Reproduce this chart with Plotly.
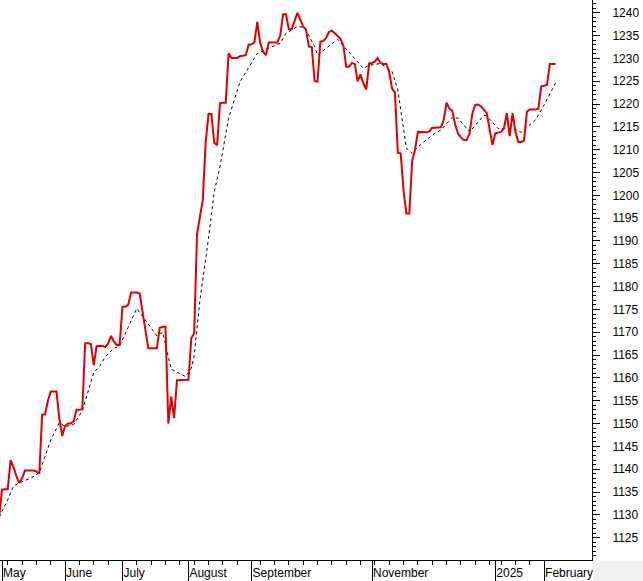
import pandas as pd
import plotly.graph_objects as go

# Trading calendar (HOSE) – business days minus exchange holidays
holidays = ["2024-04-29", "2024-04-30", "2024-05-01", "2024-09-02", "2024-09-03",
            "2025-01-01", "2025-01-27", "2025-01-28", "2025-01-29", "2025-01-30", "2025-01-31"]
days = pd.bdate_range("2024-04-26", "2025-02-07")
days = days[~days.isin(pd.to_datetime(holidays))]

close = [
    1129.5,
    1135.5, 1135.6, 1135.6, 1142.0, 1140.5, 1138.5, 1137.0, 1138.0, 1139.7, 1139.7,
    1139.7, 1139.7, 1139.5, 1139.0, 1152.0, 1152.0, 1155.0, 1157.0, 1157.0, 1157.0,
    1151.0, 1147.3, 1149.5, 1150.0, 1150.0, 1150.5, 1153.0, 1153.0, 1153.2, 1167.6,
    1167.6, 1167.4, 1162.8, 1167.0, 1167.0, 1167.0, 1166.8, 1167.5, 1169.2, 1168.0,
    1167.2, 1167.2, 1175.6, 1175.6, 1176.0, 1178.7, 1178.7, 1178.7, 1178.5, 1174.5,
    1170.5, 1166.5, 1166.5, 1166.5, 1166.5, 1171.0, 1171.2, 1171.2, 1150.0, 1155.9,
    1151.2, 1159.5, 1159.5, 1159.5, 1159.5, 1159.6, 1168.7, 1169.8, 1191.5, 1195.8,
    1199.0, 1211.5, 1217.8, 1217.8, 1211.5, 1211.0, 1220.2, 1220.3, 1220.3, 1231.1,
    1230.1, 1230.1, 1230.1, 1230.5, 1230.6, 1230.7, 1233.0, 1233.1, 1233.5, 1238.0,
    1233.5, 1231.5, 1230.7, 1233.5, 1233.5, 1233.5, 1233.5, 1235.0, 1239.7, 1239.7,
    1236.4, 1236.4, 1238.0, 1240.0, 1238.5, 1237.0, 1236.3, 1232.6, 1232.5, 1225.0,
    1224.9, 1233.7, 1233.8, 1234.5, 1235.8, 1236.1, 1235.5, 1234.8, 1234.3, 1232.9,
    1228.2, 1228.2, 1229.0, 1228.8, 1225.0, 1226.5, 1224.5, 1223.2, 1228.9, 1229.0,
    1229.3, 1230.1, 1229.0, 1228.8, 1228.8, 1227.0, 1223.4, 1222.5, 1209.3, 1209.2,
    1201.0, 1196.0, 1196.0, 1207.5, 1210.0, 1213.9, 1213.9, 1213.8, 1213.8, 1214.0,
    1214.8, 1214.8, 1214.8, 1214.9, 1216.5, 1220.3, 1219.0, 1218.5, 1215.5, 1213.5,
    1212.7, 1212.1, 1212.1, 1213.5, 1218.0, 1219.8, 1219.9, 1219.5, 1218.8, 1218.0,
    1214.5, 1211.0, 1213.6, 1213.8, 1213.9, 1214.7, 1218.0, 1213.0, 1218.0, 1214.0,
    1211.7, 1211.7, 1212.0, 1218.3, 1218.8, 1218.8, 1218.8, 1219.0, 1223.9, 1224.0,
    1224.2, 1228.8, 1228.8, 1228.8,
]

ma_day = [0, 3, 5, 7, 11, 14, 18, 21, 23, 26, 29, 32, 33, 35, 37, 40, 42, 48, 55, 57,
          60, 65, 67, 68, 70, 73, 75, 77, 80, 84, 90, 93, 98, 100, 104, 106, 107, 110, 111, 118,
          123, 127, 129, 133, 137, 139, 142, 144, 146, 151, 154, 158, 160, 164, 169, 170, 174, 179, 182, 187,
          190, 194]
ma_val = [1129.5, 1133.3, 1136.3, 1137.0, 1138.0, 1139.2, 1146.4, 1150.2, 1149.3, 1149.8,
          1152.8, 1158.8, 1161.2, 1162.5, 1164.6, 1166.5, 1167.0, 1175.2, 1169.2, 1170.0,
          1161.9, 1160.3, 1162.1, 1164.8, 1177.0, 1190.6, 1200.8, 1206.3, 1216.9, 1224.9,
          1231.1, 1232.0, 1233.3, 1235.5, 1237.0, 1236.8, 1236.2, 1232.6, 1230.7, 1234.2,
          1230.7, 1227.8, 1228.5, 1228.9, 1227.1, 1223.1, 1210.3, 1209.2, 1210.6, 1213.2,
          1214.3, 1217.1, 1216.9, 1213.9, 1217.5, 1217.4, 1214.6, 1214.7, 1213.8, 1216.5,
          1219.8, 1224.6]

month_keys = ["2024-05", "2024-06", "2024-07", "2024-08", "2024-09", "2024-11", "2025-01", "2025-02"]
month_labels = ["May", "June", "July", "August", "September", "November", "2025", "February"]
y_ticks = list(range(1125, 1245, 5))

idx = list(range(len(close)))
day_str = days.strftime("%Y-%m")
month_pos = [int((day_str == k).argmax()) for k in month_keys]
week_id = days.isocalendar().week.values
week_pos = [i for i in range(1, len(days)) if week_id[i] != week_id[i - 1]]

fig = go.Figure()
fig.add_trace(go.Scatter(x=ma_day, y=ma_val, mode="lines",
                         line=dict(color="black", width=1, dash="3px,3px"),
                         hoverinfo="skip", showlegend=False))
fig.add_trace(go.Scatter(x=idx, y=close, mode="lines",
                         line=dict(color="#e00000", width=2),
                         showlegend=False))

font = dict(family="Arial, Liberation Sans, sans-serif", size=12, color="black")
fig.update_layout(
    width=643, height=581,
    margin=dict(l=0, r=51, t=0, b=21),
    paper_bgcolor="white", plot_bgcolor="white",
    font=font,
    xaxis=dict(range=[0.303, 206.7], showgrid=False, zeroline=False,
               showline=True, linecolor="black", linewidth=1,
               tickmode="array", tickvals=month_pos, ticktext=month_labels,
               ticks="outside", ticklen=21, tickcolor="black", tickwidth=1,
               ticklabelposition="outside right", ticklabelstandoff=2,
               tickfont=font,
               minor=dict(tickmode="array", tickvals=week_pos, ticks="outside",
                          ticklen=4, tickcolor="black", showgrid=False)),
    yaxis=dict(range=[1120.1, 1242.8], side="right", showgrid=False, zeroline=False,
               showline=True, linecolor="black", linewidth=1,
               tickmode="array", tickvals=y_ticks,
               ticks="outside", ticklen=7, tickcolor="black",
               ticklabelstandoff=10, tickfont=font,
               minor=dict(dtick=1, tick0=1120, ticks="outside", ticklen=3,
                          tickcolor="black", showgrid=False)),
    shapes=[dict(type="rect", xref="paper", yref="paper", x0=1.002, x1=1.2, y0=-0.1, y1=-0.002,
                 fillcolor="#f0f0f0", line=dict(width=0), layer="above")],
)

fig.write_html("out.html", config={"displayModeBar": False},
               post_script="document.body.style.margin='0';document.body.style.overflow='hidden';")
